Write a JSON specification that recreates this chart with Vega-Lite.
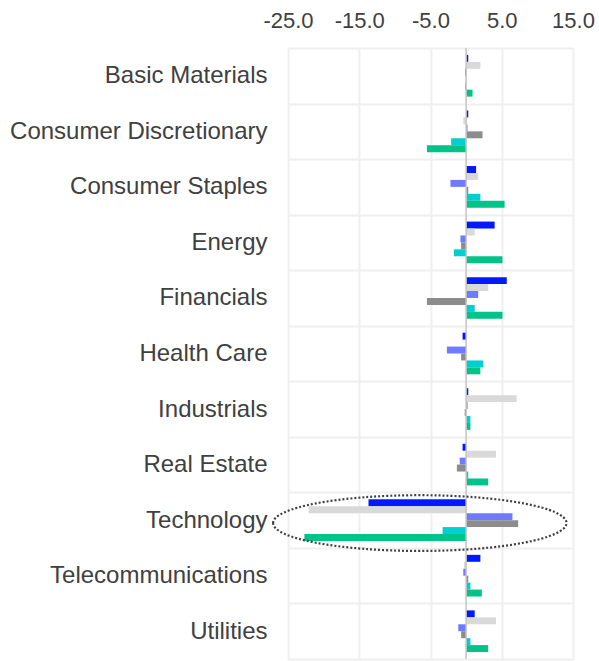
{
  "$schema": "https://vega.github.io/schema/vega-lite/v6.json",
  "width": 285,
  "height": 611,
  "autosize": {"type": "none"},
  "padding": {"left": 288, "top": 48, "right": 26, "bottom": 2},
  "config": {"view": {"stroke": null}, "font": "Liberation Sans"},
  "datasets": {
    "bars": [
      {"sector": "Basic Materials", "series": "A", "value": 0.3},
      {"sector": "Basic Materials", "series": "B", "value": 2.0},
      {"sector": "Basic Materials", "series": "C", "value": -0.15},
      {"sector": "Basic Materials", "series": "D", "value": -0.05},
      {"sector": "Basic Materials", "series": "E", "value": -0.15},
      {"sector": "Basic Materials", "series": "F", "value": 0.9},
      {"sector": "Consumer Discretionary", "series": "A", "value": 0.3},
      {"sector": "Consumer Discretionary", "series": "B", "value": -0.4},
      {"sector": "Consumer Discretionary", "series": "C", "value": 0.2},
      {"sector": "Consumer Discretionary", "series": "D", "value": 2.3},
      {"sector": "Consumer Discretionary", "series": "E", "value": -2.1},
      {"sector": "Consumer Discretionary", "series": "F", "value": -5.5},
      {"sector": "Consumer Staples", "series": "A", "value": 1.4},
      {"sector": "Consumer Staples", "series": "B", "value": 1.7},
      {"sector": "Consumer Staples", "series": "C", "value": -2.2},
      {"sector": "Consumer Staples", "series": "D", "value": 0.3},
      {"sector": "Consumer Staples", "series": "E", "value": 2.0},
      {"sector": "Consumer Staples", "series": "F", "value": 5.4},
      {"sector": "Energy", "series": "A", "value": 4.0},
      {"sector": "Energy", "series": "B", "value": 1.2},
      {"sector": "Energy", "series": "C", "value": -0.8},
      {"sector": "Energy", "series": "D", "value": -0.7},
      {"sector": "Energy", "series": "E", "value": -1.7},
      {"sector": "Energy", "series": "F", "value": 5.1},
      {"sector": "Financials", "series": "A", "value": 5.7},
      {"sector": "Financials", "series": "B", "value": 3.1},
      {"sector": "Financials", "series": "C", "value": 1.7},
      {"sector": "Financials", "series": "D", "value": -5.5},
      {"sector": "Financials", "series": "E", "value": 1.2},
      {"sector": "Financials", "series": "F", "value": 5.1},
      {"sector": "Health Care", "series": "A", "value": -0.5},
      {"sector": "Health Care", "series": "B", "value": 0.05},
      {"sector": "Health Care", "series": "C", "value": -2.7},
      {"sector": "Health Care", "series": "D", "value": -0.7},
      {"sector": "Health Care", "series": "E", "value": 2.4},
      {"sector": "Health Care", "series": "F", "value": 2.0},
      {"sector": "Industrials", "series": "A", "value": 0.3},
      {"sector": "Industrials", "series": "B", "value": 7.1},
      {"sector": "Industrials", "series": "C", "value": 0.2},
      {"sector": "Industrials", "series": "D", "value": -0.2},
      {"sector": "Industrials", "series": "E", "value": 0.6},
      {"sector": "Industrials", "series": "F", "value": 0.6},
      {"sector": "Real Estate", "series": "A", "value": -0.5},
      {"sector": "Real Estate", "series": "B", "value": 4.2},
      {"sector": "Real Estate", "series": "C", "value": -0.9},
      {"sector": "Real Estate", "series": "D", "value": -1.3},
      {"sector": "Real Estate", "series": "E", "value": 0.3},
      {"sector": "Real Estate", "series": "F", "value": 3.1},
      {"sector": "Technology", "series": "A", "value": -13.7},
      {"sector": "Technology", "series": "B", "value": -22.1},
      {"sector": "Technology", "series": "C", "value": 6.5},
      {"sector": "Technology", "series": "D", "value": 7.3},
      {"sector": "Technology", "series": "E", "value": -3.3},
      {"sector": "Technology", "series": "F", "value": -22.7},
      {"sector": "Telecommunications", "series": "A", "value": 2.0},
      {"sector": "Telecommunications", "series": "B", "value": -0.3},
      {"sector": "Telecommunications", "series": "C", "value": -0.4},
      {"sector": "Telecommunications", "series": "D", "value": 0.3},
      {"sector": "Telecommunications", "series": "E", "value": 0.6},
      {"sector": "Telecommunications", "series": "F", "value": 2.2},
      {"sector": "Utilities", "series": "A", "value": 1.2},
      {"sector": "Utilities", "series": "B", "value": 4.2},
      {"sector": "Utilities", "series": "C", "value": -1.1},
      {"sector": "Utilities", "series": "D", "value": -0.7},
      {"sector": "Utilities", "series": "E", "value": 0.6},
      {"sector": "Utilities", "series": "F", "value": 3.1}
    ],
    "zero": [{"v": 0}],
    "callout": [{"sector": "Technology", "center": -6.5}]
  },
  "layer": [
    {
      "data": {"name": "bars"},
      "mark": {"type": "bar"},
      "encoding": {
        "y": {
          "field": "sector",
          "type": "nominal",
          "sort": ["Basic Materials", "Consumer Discretionary", "Consumer Staples", "Energy", "Financials", "Health Care", "Industrials", "Real Estate", "Technology", "Telecommunications", "Utilities"],
          "scale": {"paddingInner": 0, "paddingOuter": 0},
          "axis": {"title": null, "ticks": false, "domain": false, "grid": true, "tickBand": "extent", "gridColor": "#efefef", "gridWidth": 2, "labelFontSize": 24, "labelColor": "#404040", "labelPadding": 21, "labelLimit": 300}
        },
        "yOffset": {
          "field": "series",
          "type": "nominal",
          "scale": {"domain": ["A", "B", "C", "D", "E", "F"], "paddingInner": 0, "paddingOuter": 1.27}
        },
        "x": {
          "field": "value",
          "type": "quantitative",
          "scale": {"domain": [-25, 15], "nice": false, "zero": false},
          "axis": {"orient": "top", "values": [-25, -15, -5, 5, 15], "labelExpr": "replace(format(datum.value, '.1f'), '\u2212', '-')", "title": null, "ticks": false, "domain": false, "grid": true, "gridColor": "#efefef", "gridWidth": 2, "labelFontSize": 22, "labelColor": "#404040", "labelPadding": 16, "labelFlush": false, "labelOverlap": false}
        },
        "color": {
          "field": "series",
          "type": "nominal",
          "scale": {"domain": ["A", "B", "C", "D", "E", "F"], "range": ["#0019ff", "#d9d9d9", "#6e7bff", "#8c8c8c", "#00cfcf", "#00c389"]},
          "legend": null
        }
      }
    },
    {
      "data": {"name": "zero"},
      "mark": {"type": "rule", "color": "#c4c4c4", "strokeWidth": 1.5},
      "encoding": {"x": {"field": "v", "type": "quantitative", "title": null}}
    },
    {
      "data": {"name": "callout"},
      "mark": {
        "type": "point",
        "shape": "M-1,0.02A1,0.19,0,1,1,1,0.02A1,0.19,0,1,1,-1,0.02Z",
        "size": 86085,
        "filled": false,
        "fill": null,
        "stroke": "#404040",
        "strokeWidth": 2.2,
        "strokeDash": [2, 2],
        "opacity": 1
      },
      "encoding": {
        "x": {"field": "center", "type": "quantitative", "title": null},
        "y": {"field": "sector", "type": "nominal", "title": null, "sort": ["Basic Materials", "Consumer Discretionary", "Consumer Staples", "Energy", "Financials", "Health Care", "Industrials", "Real Estate", "Technology", "Telecommunications", "Utilities"]}
      }
    }
  ]
}
